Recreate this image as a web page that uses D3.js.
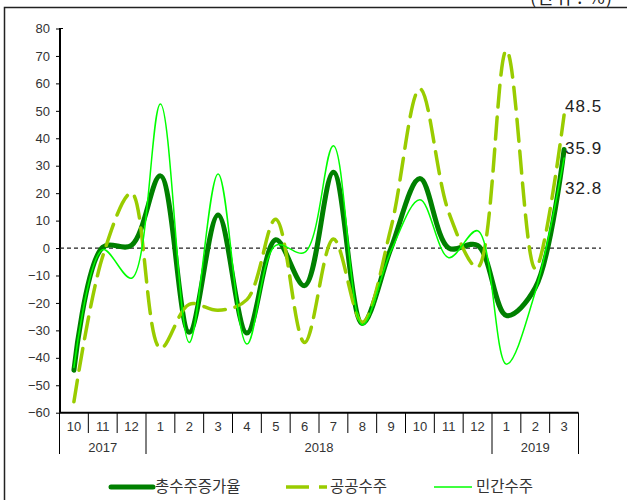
<!DOCTYPE html>
<html>
<head>
<meta charset="utf-8">
<script src="https://cdn.jsdelivr.net/npm/d3@7"></script>
<style>
  html, body { margin: 0; padding: 0; background: #fff; }
  svg { display: block; }
  .num { font-family: "Liberation Sans", Arial, sans-serif; }
  .kr { font-family: "Noto Sans CJK KR", "Noto Sans", sans-serif; }
</style>
</head>
<body>
<svg id="chart" width="627" height="500"></svg>
<script>
// Monthly order growth (%), Oct 2017 – Mar 2019
const months = ["10", "11", "12", "1", "2", "3", "4", "5", "6", "7", "8", "9", "10", "11", "12", "1", "2", "3"];
const yearLabels = ["2017", "2018", "2019"];
const yearSpans = [3, 12, 3];

const totalGrowth   = [-44.5, 0.3, 1.0, 26.3, -30.7, 12.0, -31.0, 3.0, -13.7, 27.6, -27.5, 0.0, 25.3, 0.0, 1.0, -24.6, -14.5, 35.9];
const publicOrders  = [-56.0, -3.0, 20.0, -36.5, -20.5, -22.7, -18.8, 10.5, -34.4, 3.3, -27.0, 7.5, 58.0, 13.0, -7.0, 72.0, -7.5, 48.5];
const privateOrders = [-43.5, -0.6, -11.0, 52.5, -34.4, 27.0, -35.0, 1.0, -1.6, 37.3, -28.0, -1.0, 17.6, -3.5, 6.3, -42.3, -16.0, 32.8];

const yTicks = d3.range(-60, 81, 10);

const seriesNames = ["총수주증가율", "공공수주", "민간수주"];
const unitLabel = "(단위 : %)";

const svg = d3.select("#chart");

const x = d3.scaleBand().domain(d3.range(months.length)).range([59.5, 578.5]).paddingInner(0).paddingOuter(0);
const y = d3.scaleLinear().domain([-60, 80]).range([412.7, 28.5]);
const cx = i => x(i) + x.bandwidth() / 2;

// outer frame (left and top edges)
svg.append("path")
  .attr("d", "M4.5,500 L4.5,7.5 L627,7.5")
  .attr("fill", "none").attr("stroke", "#222").attr("stroke-width", 1.5);

svg.append("text").attr("class", "kr")
  .attr("x", 613).attr("y", 4).attr("text-anchor", "end")
  .attr("font-size", 18).attr("letter-spacing", 1).attr("fill", "#222")
  .text(unitLabel);

// y axis
const yAxis = d3.axisLeft(y).tickValues(yTicks).tickSize(4).tickPadding(6)
  .tickFormat(d => (d < 0 ? "\u2212" + Math.abs(d) : d));
const gy = svg.append("g").attr("transform", "translate(60,0)").call(yAxis);
gy.select(".domain").remove();
gy.selectAll(".tick line").attr("stroke", "#000").attr("stroke-width", 1);
gy.selectAll(".tick text").attr("class", "num").attr("font-size", 13).attr("fill", "#333");
svg.append("line")
  .attr("x1", 60).attr("x2", 60).attr("y1", y(80) - 0.5).attr("y2", y(-60))
  .attr("stroke", "#000").attr("stroke-width", 2);
svg.append("line")
  .attr("x1", 60).attr("x2", 63).attr("y1", y(80)).attr("y2", y(80))
  .attr("stroke", "#000").attr("stroke-width", 1);

// zero reference line
svg.append("line")
  .attr("x1", 60).attr("x2", 601).attr("y1", y(0)).attr("y2", y(0))
  .attr("stroke", "#222").attr("stroke-width", 1.3).attr("stroke-dasharray", "4,3");

// x axis: months and years
const axisY = y(-60);
svg.append("line")
  .attr("x1", x(0)).attr("x2", x(months.length - 1) + x.bandwidth())
  .attr("y1", axisY).attr("y2", axisY)
  .attr("stroke", "#000").attr("stroke-width", 2);

const yearBounds = [0];
yearSpans.forEach(s => yearBounds.push(yearBounds[yearBounds.length - 1] + s));
const bandEdge = i => (i < months.length ? x(i) : x(months.length - 1) + x.bandwidth());

d3.range(months.length + 1).forEach(i => {
  const isYear = yearBounds.includes(i);
  svg.append("line")
    .attr("x1", bandEdge(i)).attr("x2", bandEdge(i))
    .attr("y1", axisY).attr("y2", isYear ? 454 : 433)
    .attr("stroke", "#000").attr("stroke-width", 1);
});

svg.append("g").selectAll("text").data(months).join("text")
  .attr("class", "num")
  .attr("x", (d, i) => cx(i)).attr("y", 430.5)
  .attr("text-anchor", "middle").attr("font-size", 13).attr("fill", "#333")
  .text(d => d);

svg.append("g").selectAll("text").data(yearLabels).join("text")
  .attr("class", "num")
  .attr("x", (d, i) => (bandEdge(yearBounds[i]) + bandEdge(yearBounds[i + 1])) / 2)
  .attr("y", 451.5)
  .attr("text-anchor", "middle").attr("font-size", 13).attr("fill", "#333")
  .text(d => d);

// series lines (centripetal Catmull-Rom smoothing)
const line = d3.line().x((d, i) => cx(i)).y(d => y(d)).curve(d3.curveCatmullRom.alpha(0.5));

const series = [
  { name: seriesNames[0], values: totalGrowth,   color: "#008000", width: 5,   dash: null },
  { name: seriesNames[1], values: publicOrders,  color: "#99CC00", width: 3.5, dash: "22,10" },
  { name: seriesNames[2], values: privateOrders, color: "#00FF00", width: 1.5, dash: null }
];

series.forEach(s => {
  svg.append("path")
    .datum(s.values)
    .attr("d", line)
    .attr("fill", "none")
    .attr("stroke", s.color)
    .attr("stroke-width", s.width)
    .attr("stroke-linecap", "round")
    .attr("stroke-linejoin", "round")
    .attr("stroke-dasharray", s.dash);
});

// end-of-series value labels
const last = months.length - 1;
const endLabels = [
  { v: publicOrders[last],  dy: -3 },
  { v: totalGrowth[last],   dy: 4 },
  { v: privateOrders[last], dy: 36 }
];
svg.append("g").selectAll("text").data(endLabels).join("text")
  .attr("class", "num")
  .attr("x", 565).attr("y", d => y(d.v) + d.dy)
  .attr("font-size", 17).attr("letter-spacing", 1).attr("fill", "#222")
  .text(d => d.v.toFixed(1));

// legend
const legend = [
  { x1: 111, x2: 153, tx: 155 },
  { x1: 286, x2: 327, tx: 330 },
  { x1: 434, x2: 472, tx: 476 }
];
const ly = 487;
series.forEach((s, i) => {
  const L = legend[i];
  svg.append("line")
    .attr("x1", L.x1).attr("x2", L.x2).attr("y1", ly).attr("y2", ly)
    .attr("stroke", s.color).attr("stroke-width", s.width)
    .attr("stroke-linecap", i === 0 ? "round" : "butt")
    .attr("stroke-dasharray", i === 1 ? "23,10" : null);
  svg.append("text").attr("class", "kr")
    .attr("x", L.tx).attr("y", ly).attr("dy", "0.35em")
    .attr("font-size", 15.5).attr("fill", "#333")
    .text(s.name);
});
</script>
</body>
</html>
